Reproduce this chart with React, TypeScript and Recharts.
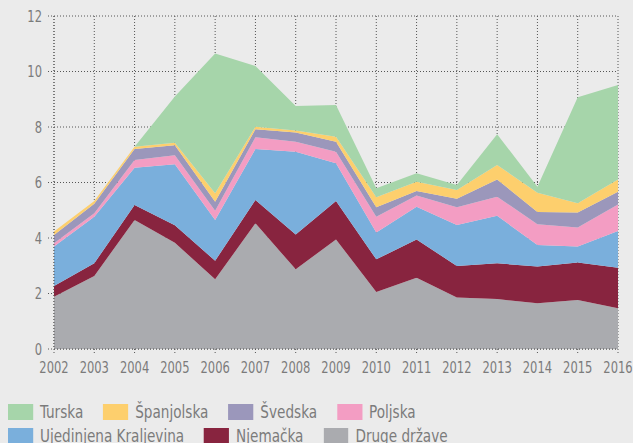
import { Area, AreaChart, CartesianGrid, XAxis, YAxis } from 'recharts'

const years = [
  '2002', '2003', '2004', '2005', '2006', '2007', '2008', '2009',
  '2010', '2011', '2012', '2013', '2014', '2015', '2016',
]

const drugeDrzave = [1.88, 2.63, 4.65, 3.83, 2.51, 4.53, 2.87, 3.95, 2.05, 2.57, 1.86, 1.8, 1.65, 1.77, 1.47]
const njemacka = [0.39, 0.46, 0.54, 0.63, 0.67, 0.84, 1.26, 1.38, 1.18, 1.38, 1.13, 1.29, 1.32, 1.35, 1.46]
const ujedinjenaKraljevina = [1.42, 1.68, 1.34, 2.2, 1.47, 1.84, 2.98, 1.36, 0.97, 1.18, 1.48, 1.71, 0.78, 0.57, 1.32]
const poljska = [0.12, 0.12, 0.28, 0.32, 0.33, 0.42, 0.36, 0.42, 0.57, 0.4, 0.64, 0.69, 0.75, 0.69, 0.96]
const svedska = [0.3, 0.34, 0.4, 0.36, 0.33, 0.29, 0.33, 0.36, 0.34, 0.16, 0.3, 0.62, 0.44, 0.54, 0.46]
const spanjolska = [0.12, 0.1, 0.08, 0.09, 0.3, 0.09, 0.07, 0.18, 0.36, 0.34, 0.32, 0.52, 0.69, 0.33, 0.44]
const turska = [0, 0, 0, 1.67, 5.04, 2.19, 0.89, 1.14, 0.32, 0.3, 0.18, 1.11, 0.22, 3.82, 3.4]

const yTicks = [0, 2, 4, 6, 8, 10, 12]

// bottom to top of the stack
const series = [
  { key: 'druge', name: 'Druge države', values: drugeDrzave, color: '#aaabaf' },
  { key: 'njemacka', name: 'Njemačka', values: njemacka, color: '#88243f' },
  { key: 'uk', name: 'Ujedinjena Kraljevina', values: ujedinjenaKraljevina, color: '#7aafdc' },
  { key: 'poljska', name: 'Poljska', values: poljska, color: '#f39dc3' },
  { key: 'svedska', name: 'Švedska', values: svedska, color: '#9b97bb' },
  { key: 'spanjolska', name: 'Španjolska', values: spanjolska, color: '#fdcf6d' },
  { key: 'turska', name: 'Turska', values: turska, color: '#a6d5aa' },
]

const data = years.map((year, i) => {
  const row: Record<string, string | number> = { year }
  series.forEach((s) => {
    row[s.key] = s.values[i]
  })
  return row
})

const font = '"Liberation Sans Narrow", "DejaVu Sans Condensed", "Roboto", sans-serif'
const textColor = '#7b7b7b'
const squeeze = 0.8 // the original uses a narrow face we don't have

function XTick({ x, y, payload }: any) {
  return (
    <g transform={`translate(${x},${y}) scale(${squeeze},1)`}>
      <text textAnchor="middle" dy="0.71em" fill={textColor} fontSize={16} fontFamily={font}>
        {payload.value}
      </text>
    </g>
  )
}

function YTick({ x, y, payload }: any) {
  return (
    <g transform={`translate(${x},${y}) scale(${squeeze},1)`}>
      <text textAnchor="end" dy="0.355em" fill={textColor} fontSize={16} fontFamily={font}>
        {payload.value}
      </text>
    </g>
  )
}

const legendScale = 0.84

function LegendRow({ items }: { items: typeof series }) {
  return (
    <div
      style={{
        display: 'flex',
        gap: 20 / legendScale,
        height: 24,
        alignItems: 'flex-start',
        transform: `scaleX(${legendScale})`,
        transformOrigin: 'left top',
        whiteSpace: 'nowrap',
      }}
    >
      {items.map((s) => (
        <div key={s.key} style={{ display: 'flex', alignItems: 'center', gap: 7 / legendScale }}>
          <span style={{ width: 25 / legendScale, height: 16, background: s.color, display: 'inline-block' }} />
          <span style={{ fontSize: 18, color: textColor, lineHeight: '16px' }}>{s.name}</span>
        </div>
      ))}
    </div>
  )
}

export default function App() {
  const legendItems = [...series].reverse()
  return (
    <div
      style={{
        position: 'absolute',
        left: 0,
        top: 0,
        width: 633,
        height: 443,
        overflow: 'hidden',
        background: '#ebebeb',
        fontFamily: font,
      }}
    >
      <AreaChart width={633} height={380} data={data} margin={{ top: 16, right: 15, bottom: 0, left: 0 }}>
        <CartesianGrid stroke="#555" strokeDasharray="1 2" strokeWidth={1} />
        <XAxis
          dataKey="year"
          height={31}
          interval={0}
          tickSize={4}
          tickMargin={9}
          stroke="#555"
          strokeDasharray="1 2"
          tick={<XTick />}
        />
        <YAxis
          width={54}
          domain={[0, 12]}
          ticks={yTicks}
          tickSize={6}
          tickMargin={6}
          stroke="#555"
          strokeDasharray="1 2"
          tick={<YTick />}
        />
        {series.map((s) => (
          <Area
            key={s.key}
            type="linear"
            dataKey={s.key}
            name={s.name}
            stackId="1"
            stroke="none"
            fill={s.color}
            fillOpacity={1}
            isAnimationActive={false}
          />
        ))}
      </AreaChart>
      <div style={{ position: 'absolute', left: 8, top: 404 }}>
        <LegendRow items={legendItems.slice(0, 4)} />
        <LegendRow items={legendItems.slice(4)} />
      </div>
    </div>
  )
}
